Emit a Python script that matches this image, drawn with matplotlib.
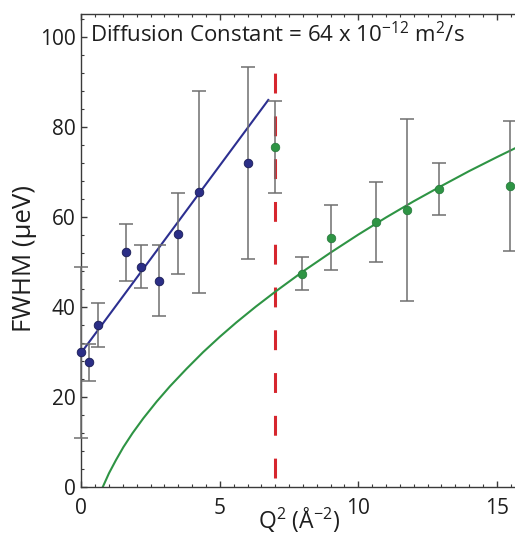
import matplotlib
matplotlib.use("Agg")
import matplotlib.pyplot as plt
from matplotlib.ticker import MultipleLocator

plt.rcParams['font.family'] = ['Open Sans', 'DejaVu Sans']
plt.rcParams['mathtext.fontset'] = 'custom'
plt.rcParams['mathtext.rm'] = 'Open Sans'
plt.rcParams['mathtext.it'] = 'Open Sans'
plt.rcParams['mathtext.default'] = 'regular'

# Blue data (low Q^2)
blue_x = [0.0, 0.27, 0.59, 1.6, 2.17, 2.79, 3.49, 4.25, 6.03]
blue_y = [29.9, 27.6, 35.9, 52.1, 48.9, 45.8, 56.2, 65.4, 71.9]
blue_err = [19.0, 4.1, 4.9, 6.3, 4.8, 7.8, 9.0, 22.4, 21.3]

# Green data (high Q^2)
green_x = [6.99, 7.98, 9.03, 10.64, 11.76, 12.91, 15.47]
green_y = [75.4, 47.3, 55.3, 58.8, 61.5, 66.1, 66.8]
green_err = [10.2, 3.7, 7.2, 8.9, 20.2, 5.7, 14.5]

# Linear fit through blue data (endpoints)
fit_x = [0.05, 6.75]
fit_y = [30.2, 85.9]

# Green model curve
curve_x = [0.78, 1.0, 1.25, 1.52, 1.85, 2.24, 2.72, 3.2, 3.8, 4.4, 5.0,
           5.6, 6.3, 7.0, 8.0, 9.0, 10.0, 11.0, 12.0, 13.0, 14.0, 15.0, 15.7]
curve_y = [0.0, 3.0, 5.9, 8.8, 11.9, 15.2, 18.9, 22.3, 26.2, 29.9, 33.3,
           36.5, 40.0, 43.3, 47.8, 52.0, 56.0, 59.8, 63.4, 66.8, 70.1, 73.2, 75.3]

cutoff_x = 7.0
cutoff_y = [2.0, 94.0]

title = r'Diffusion Constant = 64 x 10$^{\mathregular{-12}}$ m$^{2}$/s'
xlabel = r'Q$^{2}$ (Å$^{\mathregular{-2}}$)'
ylabel = 'FWHM (μeV)'

W, H = 515, 538
fig = plt.figure(figsize=(W / 100, H / 100), dpi=100)
ax = fig.add_axes([81.3 / W, 1 - 486.7 / H, 1 - 81.3 / W, (486.7 - 14) / H])

blue = '#2b2e86'
green = '#2e9444'
red = '#d6262e'
grey = '#6f6f6f'

ax.plot(curve_x, curve_y, color=green, lw=1.5, zorder=2)
ax.plot(fit_x, fit_y, color='#2c2f90', lw=1.5, zorder=2)
ax.plot([cutoff_x, cutoff_x], cutoff_y, color=red, lw=2.2,
        dashes=(6.5, 7.5), zorder=1)

ax.errorbar(blue_x, blue_y, yerr=blue_err, fmt='none', ecolor=grey,
            elinewidth=1.1, capsize=5, capthick=1.1, zorder=3, clip_on=False)
ax.errorbar(green_x, green_y, yerr=green_err, fmt='none', ecolor=grey,
            elinewidth=1.1, capsize=5, capthick=1.1, zorder=3, clip_on=False)
ax.plot(blue_x, blue_y, 'o', color=blue, mec='#1a1c55', mew=0.6, ms=6.2,
        zorder=4, clip_on=False)
ax.plot(green_x, green_y, 'o', color=green, mec='#24763a', mew=0.5, ms=6.2,
        zorder=4, clip_on=False)

ax.set_xlim(0, (W - 81.3) / 27.7)
ax.set_ylim(0, 105)
ax.xaxis.set_major_locator(MultipleLocator(5))
ax.xaxis.set_minor_locator(MultipleLocator(0.5))
ax.yaxis.set_major_locator(MultipleLocator(20))
ax.yaxis.set_minor_locator(MultipleLocator(4))

ax.spines['right'].set_visible(False)
for s in ['left', 'bottom', 'top']:
    ax.spines[s].set_linewidth(1.0)
    ax.spines[s].set_color('#3a3a3a')
ax.tick_params(which='both', direction='in', top=True, right=False,
               color='#3a3a3a', labelsize=15, labelcolor='#1e1e1e')
ax.tick_params(which='major', length=4, width=1.0)
ax.tick_params(which='minor', length=2.2, width=0.8)
ax.tick_params(axis='x', which='major', pad=8)
ax.tick_params(axis='y', which='major', pad=4)

fig.text(90 / W, 1 - 42 / H, title, fontsize=16, color='#1e1e1e',
         ha='left', va='baseline')
fig.text(299 / W, 1 - 520 / H, xlabel, fontsize=16.5, color='#1e1e1e',
         ha='center', va='center')
fig.text(25 / W, 1 - 258 / H, ylabel, fontsize=18.5, color='#1e1e1e',
         ha='center', va='center', rotation=90)

fig.savefig('out.png', dpi=100)
